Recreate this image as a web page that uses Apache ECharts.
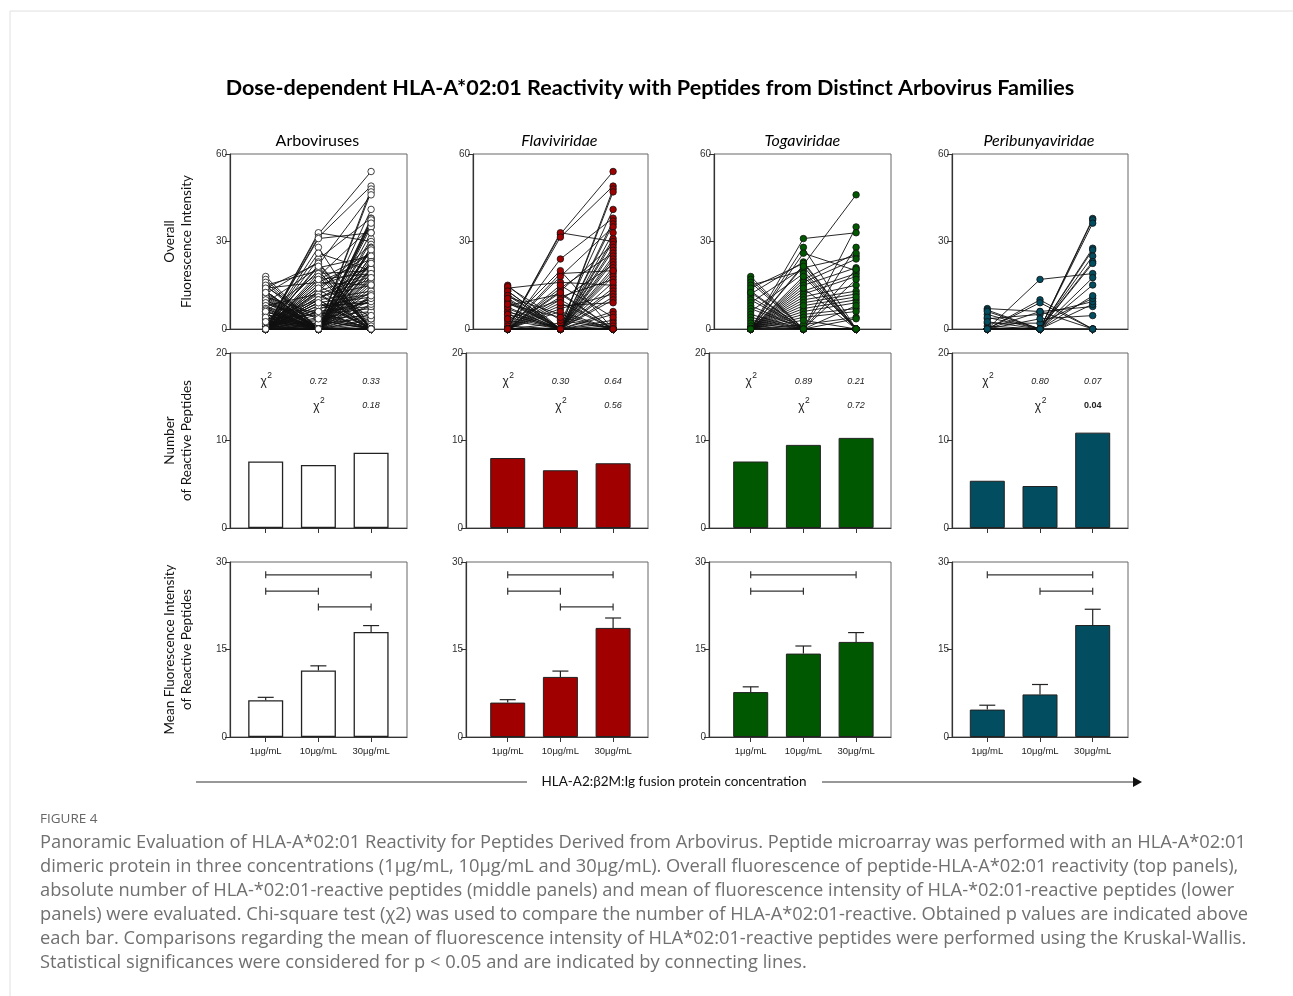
<!DOCTYPE html>
<html>
<head>
<meta charset="utf-8">
<title>Dose-dependent HLA-A*02:01 Reactivity</title>
<script src="https://cdn.jsdelivr.net/npm/echarts@6/dist/echarts.min.js"></script>
<style>
  html, body { margin: 0; padding: 0; background: #fff; }
  #chart { width: 1293px; height: 996px; }
</style>
</head>
<body>
<div id="chart"></div>
<script>
// doses on the x axis (1, 2, 3 = 1, 10, 30 ug/mL)
var doses = [1, 2, 3];
var doseLabels = ['1\u03bcg/mL', '10\u03bcg/mL', '30\u03bcg/mL'];
var panelTitles = ['Arboviruses', 'Flaviviridae', 'Togaviridae', 'Peribunyaviridae'];
var panelColors = ['#ffffff', '#a00000', '#005800', '#024d60'];

// overall fluorescence per peptide: [1ug, 10ug, 30ug]
var flaviPeptides = [
  [0, 32.5, 54], [0, 33, 30], [0, 31.5, 49], [0, 24, 38], [0, 0, 48], [0, 0, 47],
  [0, 2, 41], [0, 0, 37], [0, 19, 20], [14, 16, 15], [15, 0, 0], [13, 0, 0],
  [12, 0, 3], [11, 5, 0], [10, 0, 0], [9, 0, 0], [8, 12, 0], [7, 0, 0],
  [6, 0, 0], [5, 0, 0], [4, 0, 0], [3, 0, 0], [2, 20, 0], [1, 0, 0],
  [14.5, 3, 0], [13, 0, 36], [0, 18, 35], [0, 0, 31], [0, 0, 30], [0, 13, 29],
  [0, 0, 28], [0, 0, 27], [0, 14, 26], [0, 0, 25], [0, 0, 24], [0, 0, 23],
  [0, 10, 22], [0, 0, 21], [0, 0, 19], [0, 0, 18], [0, 11, 17], [0, 0, 16],
  [0, 0, 14], [0, 0, 13], [0, 7, 12], [0, 0, 11], [0, 0, 10], [0, 8, 9],
  [6, 0, 6], [5, 0, 5], [0, 15, 4], [9.5, 0, 2], [7.5, 0, 1], [0, 12.5, 0],
  [3.5, 10, 0], [0, 9, 0], [0, 6, 0], [11.5, 0, 33], [10.5, 0, 20], [8.5, 4, 0]
];
var togaPeptides = [
  [0, 22, 46], [0, 0, 35], [0, 31, 33], [0, 28, 0], [0, 26, 20], [18, 0, 0],
  [17, 0, 0], [16, 0, 0], [15, 20, 0], [13, 0, 28], [12, 23, 0], [11, 0, 0],
  [10, 0, 0], [9, 21, 25], [8, 0, 0], [7, 0, 0], [6, 19, 0], [5, 0, 0],
  [4, 0, 0], [3, 0, 0], [2, 0, 0], [1, 0, 0], [0, 17, 26], [0, 16, 24],
  [0, 15, 21], [0, 13, 19], [0, 12, 18], [0, 11, 15], [0, 10, 13], [0, 9, 12],
  [0, 7, 10], [0, 6, 9], [0, 5, 7], [0, 4, 6], [0, 1.5, 4], [0, 0, 3.5],
  [14, 22.5, 0], [12.5, 0, 17], [0, 0, 20.5], [0, 21.5, 0], [0, 18, 0], [0, 14, 0],
  [0, 8, 11], [0, 0, 8], [0, 3, 0]
];
var periPeptides = [
  [0, 17, 19], [7, 6, 7.7], [6.5, 0, 8.5], [5, 0, 0], [3.5, 5, 9.4], [2, 2, 10.5],
  [1, 0, 11.4], [0, 10, 0], [0, 9, 0], [0, 3.5, 4.6], [0, 0, 37.9], [0, 0, 37.4],
  [0, 0, 36.3], [0, 0, 27.7], [0, 0, 27.1], [0, 0, 25], [0, 0, 23.1], [0, 0, 22.5],
  [6, 0, 15.1], [4, 0, 17.6], [0, 6, 0], [2.5, 0, 0]
];
var arboPeptides = flaviPeptides.concat(togaPeptides, periPeptides);

// number of reactive peptides
var countArbo = [7.6, 7.2, 8.6];
var countFlavi = [8.0, 6.6, 7.4];
var countToga = [7.6, 9.5, 10.3];
var countPeri = [5.4, 4.8, 10.9];

// chi-square p values: 1 vs 10, 1 vs 30, 10 vs 30
var chiArbo = ['0.72', '0.33', '0.18'];
var chiFlavi = ['0.30', '0.64', '0.56'];
var chiToga = ['0.89', '0.21', '0.72'];
var chiPeri = ['0.80', '0.07', '0.04'];

// mean fluorescence of reactive peptides and SEM
var meanArbo = [6.3, 11.4, 18.0];
var semArbo = [0.5, 0.8, 1.1];
var meanFlavi = [5.9, 10.3, 18.7];
var semFlavi = [0.5, 1.0, 1.7];
var meanToga = [7.7, 14.3, 16.3];
var semToga = [0.9, 1.3, 1.6];
var meanPeri = [4.7, 7.3, 19.2];
var semPeri = [0.75, 1.7, 2.7];

// significant Kruskal-Wallis comparisons
var sigArbo = [[1, 3], [1, 2], [2, 3]];
var sigFlavi = [[1, 3], [1, 2], [2, 3]];
var sigToga = [[1, 3], [1, 2]];
var sigPeri = [[1, 3], [2, 3]];

var peptides = [arboPeptides, flaviPeptides, togaPeptides, periPeptides];
var counts = [countArbo, countFlavi, countToga, countPeri];
var chis = [chiArbo, chiFlavi, chiToga, chiPeri];
var means = [meanArbo, meanFlavi, meanToga, meanPeri];
var sems = [semArbo, semFlavi, semToga, semPeri];
var sigs = [sigArbo, sigFlavi, sigToga, sigPeri];

// layout
var tick1 = [265.7, 507.7, 750.7, 987.3];
var step = 52.7;
var lefts = [[230, 473, 714, 952], [230, 466, 709, 952], [230, 466, 709, 952]];
var rights = [407, 648, 891, 1128];
var tops = [154, 353, 562];
var plotH = 175;
var yMax = [60, 20, 30];
var yStep = [30, 10, 15];
var yNames = [
  'Overall\nFluorescence Intensity',
  'Number\nof Reactive Peptides',
  'Mean Fluorescence Intensity\nof Reactive Peptides'
];
var bracketLevels = [27.8, 25.0, 22.3];
var axisFont = 'Liberation Sans';
var textFont = 'Lato';

var grids = [], xAxes = [], yAxes = [], series = [];

for (var r = 0; r < 3; r++) {
  for (var c = 0; c < 4; c++) {
    var g = r * 4 + c;
    var L = lefts[r][c], R = rights[c];
    grids.push({
      left: L, top: tops[r], width: R - L, height: plotH,
      show: true, borderColor: '#666', borderWidth: 1, backgroundColor: 'transparent'
    });
    xAxes.push({
      type: 'value', gridIndex: g,
      min: 1 - (tick1[c] - L) / step,
      max: 3 + (R - (tick1[c] + 2 * step)) / step,
      splitLine: { show: false },
      axisLine: { show: true, lineStyle: { color: '#333', width: 1.2 } },
      axisTick: { show: true, customValues: doses, length: 5, lineStyle: { color: '#333' } },
      axisLabel: {
        show: r === 2, customValues: doses, fontSize: 9.5, margin: 9, color: '#222',
        fontFamily: axisFont,
        formatter: function (v) { return doseLabels[Math.round(v) - 1]; }
      }
    });
    yAxes.push({
      type: 'value', gridIndex: g, min: 0, max: yMax[r], interval: yStep[r],
      splitLine: { show: false },
      axisLine: { show: true, lineStyle: { color: '#333', width: 1.2 } },
      axisTick: { show: true, length: 5, lineStyle: { color: '#333' } },
      axisLabel: { fontSize: 10, margin: 3, color: '#333', fontFamily: axisFont },
      name: c === 0 ? yNames[r] : '',
      nameLocation: 'middle', nameGap: 35, nameRotate: 90,
      nameTextStyle: { fontSize: 13.5, fontFamily: textFont, color: '#111', lineHeight: 17 }
    });
  }
}

// top row: paired lines + points
for (var c = 0; c < 4; c++) {
  var lineData = peptides[c].map(function (p) {
    return { coords: [[1, p[0]], [2, p[1]], [3, p[2]]] };
  });
  var pts = [];
  peptides[c].forEach(function (p) {
    for (var k = 0; k < 3; k++) pts.push([doses[k], p[k]]);
  });
  series.push({
    type: 'lines', coordinateSystem: 'cartesian2d', xAxisIndex: c, yAxisIndex: c,
    polyline: true, silent: true, data: lineData,
    lineStyle: { color: '#111', width: 1, opacity: 0.9 }, z: 2
  });
  series.push({
    type: 'scatter', xAxisIndex: c, yAxisIndex: c, data: pts, symbolSize: 6.5,
    itemStyle: { color: panelColors[c], borderColor: '#111', borderWidth: 0.8, opacity: 1 },
    z: 3
  });
}

// middle row: counts + chi-square p values
for (var c = 0; c < 4; c++) {
  var g = 4 + c;
  series.push({
    type: 'bar', xAxisIndex: g, yAxisIndex: g, barWidth: 35,
    data: counts[c].map(function (v, i) { return [doses[i], v]; }),
    itemStyle: { color: panelColors[c], borderColor: '#222', borderWidth: c === 0 ? 1.3 : 1 }
  });
  (function (chi) {
    // [x, y, kind]: kind -1 = chi label, 0..2 = p value index
    var items = [[1, 16.8, -1], [2, 16.8, 0], [3, 16.8, 1], [2, 14.0, -1], [3, 14.0, 2]];
    series.push({
      type: 'custom', xAxisIndex: g, yAxisIndex: g, silent: true, z: 5,
      data: items.map(function (it) { return [it[0], it[1]]; }),
      renderItem: function (params, api) {
        var it = items[params.dataIndex];
        var pt = api.coord([it[0], it[1]]);
        if (it[2] < 0) {
          return {
            type: 'group', children: [
              { type: 'text', x: pt[0] - 2, y: pt[1] + 1,
                style: { text: '\u03c7', font: '12px "Liberation Sans"', fill: '#222',
                  textAlign: 'center', textVerticalAlign: 'middle' } },
              { type: 'text', x: pt[0] + 4, y: pt[1] - 5,
                style: { text: '2', font: '8.5px "Liberation Sans"', fill: '#222',
                  textAlign: 'center', textVerticalAlign: 'middle' } }
            ]
          };
        }
        var txt = chi[it[2]];
        var sig = parseFloat(txt) < 0.05;
        return {
          type: 'text', x: pt[0], y: pt[1],
          style: { text: txt, font: (sig ? 'bold ' : 'italic ') + '9px "Liberation Sans"',
            fill: '#222', textAlign: 'center', textVerticalAlign: 'middle' }
        };
      }
    });
  })(chis[c]);
}

// bottom row: mean bars, SEM and significance brackets
for (var c = 0; c < 4; c++) {
  var g = 8 + c;
  series.push({
    type: 'bar', xAxisIndex: g, yAxisIndex: g, barWidth: 35,
    data: means[c].map(function (v, i) { return [doses[i], v]; }),
    itemStyle: { color: panelColors[c], borderColor: '#222', borderWidth: c === 0 ? 1.3 : 1 }
  });
  series.push({
    type: 'custom', xAxisIndex: g, yAxisIndex: g, silent: true, z: 4,
    data: means[c].map(function (v, i) { return [doses[i], v, v + sems[c][i]]; }),
    encode: { x: 0, y: [1, 2] },
    renderItem: function (params, api) {
      var b = api.coord([api.value(0), api.value(1)]);
      var t = api.coord([api.value(0), api.value(2)]);
      var st = { stroke: '#222', lineWidth: 1.2 };
      return {
        type: 'group', children: [
          { type: 'line', shape: { x1: b[0], y1: b[1], x2: t[0], y2: t[1] }, style: st },
          { type: 'line', shape: { x1: t[0] - 8, y1: t[1], x2: t[0] + 8, y2: t[1] }, style: st }
        ]
      };
    }
  });
  series.push({
    type: 'custom', xAxisIndex: g, yAxisIndex: g, silent: true, z: 4,
    data: sigs[c].map(function (s, i) { return [s[0], s[1], bracketLevels[i]]; }),
    encode: { x: [0, 1], y: 2 },
    renderItem: function (params, api) {
      var a = api.coord([api.value(0), api.value(2)]);
      var b = api.coord([api.value(1), api.value(2)]);
      var st = { stroke: '#333', lineWidth: 1.2 };
      return {
        type: 'group', children: [
          { type: 'line', shape: { x1: a[0], y1: a[1], x2: b[0], y2: b[1] }, style: st },
          { type: 'line', shape: { x1: a[0], y1: a[1] - 3.5, x2: a[0], y2: a[1] + 3.5 }, style: st },
          { type: 'line', shape: { x1: b[0], y1: b[1] - 3.5, x2: b[0], y2: b[1] + 3.5 }, style: st }
        ]
      };
    }
  });
}

var titles = [{
  text: 'Dose-dependent HLA-A*02:01 Reactivity with Peptides from Distinct Arbovirus Families',
  left: 650, top: 77, textAlign: 'center', padding: 0,
  textStyle: { fontFamily: textFont, fontWeight: 'bold', fontSize: 21.6, color: '#000' }
}];
for (var c = 0; c < 4; c++) {
  titles.push({
    text: panelTitles[c], left: tick1[c] + step - 1, top: 133, textAlign: 'center', padding: 0,
    textStyle: { fontFamily: textFont, fontWeight: 'normal', fontSize: 16, color: '#000',
      fontStyle: c === 0 ? 'normal' : 'italic' }
  });
}

var captionLines = [
  'Panoramic Evaluation of HLA-A*02:01 Reactivity for Peptides Derived from Arbovirus. Peptide microarray was performed with an HLA-A*02:01',
  'dimeric protein in three concentrations (1\u03bcg/mL, 10\u03bcg/mL and 30\u03bcg/mL). Overall fluorescence of peptide-HLA-A*02:01 reactivity (top panels),',
  'absolute number of HLA-*02:01-reactive peptides (middle panels) and mean of fluorescence intensity of HLA-*02:01-reactive peptides (lower',
  'panels) were evaluated. Chi-square test (\u03c72) was used to compare the number of HLA-A*02:01-reactive. Obtained p values are indicated above',
  'each bar. Comparisons regarding the mean of fluorescence intensity of HLA*02:01-reactive peptides were performed using the Kruskal-Wallis.',
  'Statistical significances were considered for p < 0.05 and are indicated by connecting lines.'
];

var graphics = [
  { type: 'line', shape: { x1: 10, y1: 11, x2: 1293, y2: 11 }, style: { stroke: '#e0e0e0', lineWidth: 1 } },
  { type: 'line', shape: { x1: 10, y1: 11, x2: 10, y2: 996 }, style: { stroke: '#e0e0e0', lineWidth: 1 } },
  { type: 'line', shape: { x1: 196, y1: 782, x2: 527, y2: 782 }, style: { stroke: '#333', lineWidth: 1.2 } },
  { type: 'line', shape: { x1: 822, y1: 782, x2: 1136, y2: 782 }, style: { stroke: '#333', lineWidth: 1.2 } },
  { type: 'polygon', shape: { points: [[1133, 777], [1142, 782], [1133, 787]] }, style: { fill: '#111' } },
  { type: 'text', x: 674, y: 782, style: { text: 'HLA-A2:\u03b22M:Ig fusion protein concentration',
      font: '13.5px Lato', fill: '#111', textAlign: 'center', textVerticalAlign: 'middle' } },
  { type: 'text', x: 40, y: 819, style: { text: 'FIGURE 4', font: '13.5px "Open Sans"', fill: '#666',
      textAlign: 'left', textVerticalAlign: 'middle' } }
];
captionLines.forEach(function (t, i) {
  graphics.push({ type: 'text', x: 40, y: 843 + i * 24, style: { text: t, font: '18.3px "Open Sans"',
    fill: '#707070', textAlign: 'left', textVerticalAlign: 'middle' } });
});

var chart = echarts.init(document.getElementById('chart'));
chart.setOption({
  backgroundColor: '#fff',
  animation: false,
  title: titles,
  grid: grids,
  xAxis: xAxes,
  yAxis: yAxes,
  series: series,
  graphic: graphics
});
</script>
</body>
</html>
